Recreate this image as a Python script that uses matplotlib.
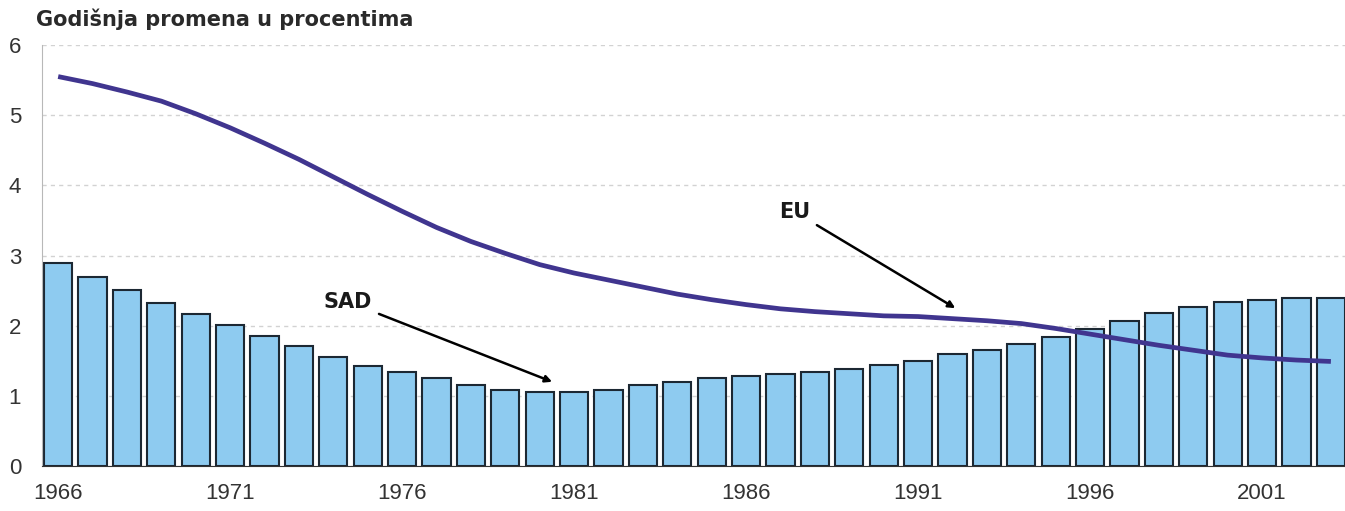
import matplotlib.pyplot as plt
import numpy as np

# podaci ocitani sa grafika
godine = np.arange(1966, 2004)
sad = [2.89, 2.69, 2.51, 2.32, 2.17, 2.01, 1.85, 1.71, 1.55, 1.43,
       1.34, 1.25, 1.15, 1.08, 1.05, 1.05, 1.08, 1.15, 1.20, 1.25,
       1.28, 1.31, 1.34, 1.38, 1.44, 1.50, 1.60, 1.65, 1.74, 1.84,
       1.95, 2.07, 2.18, 2.27, 2.34, 2.37, 2.40, 2.40]
eu = [5.55, 5.45, 5.33, 5.20, 5.02, 4.82, 4.60, 4.37, 4.12, 3.87,
      3.63, 3.40, 3.20, 3.03, 2.87, 2.75, 2.65, 2.55, 2.45, 2.37,
      2.30, 2.24, 2.20, 2.17, 2.14, 2.13, 2.10, 2.07, 2.03, 1.96,
      1.88, 1.80, 1.72, 1.65, 1.58, 1.54, 1.51, 1.49]
xticks = [1966, 1971, 1976, 1981, 1986, 1991, 1996, 2001]

plt.rcParams['font.family'] = ['DejaVu Sans']

fig = plt.figure(figsize=(13.45, 5.11), dpi=100)
ax = fig.add_axes([42 / 1345, 45 / 511, 1 - 42 / 1345, 421 / 511])

ax.bar(godine, sad, width=0.82, color='#8ecbf0', edgecolor='#1c2833',
       linewidth=1.5, zorder=2)
ax.plot(godine, eu, color='#40358f', linewidth=3.4, zorder=3,
        solid_capstyle='butt')

ax.set_xlim(1965.53, 2003.41)
ax.set_ylim(0, 6)
ax.set_yticks(range(0, 7))
ax.set_xticks(xticks)
ax.tick_params(axis='both', length=0, labelsize=16, labelcolor='#333333')
for lab in ax.get_xticklabels() + ax.get_yticklabels():
    lab.set_family('Liberation Sans')
ax.tick_params(axis='x', pad=12)
ax.tick_params(axis='y', pad=15)
ax.grid(axis='y', color='#d2d2d2', linestyle=(0, (3, 3)), linewidth=1.0, zorder=0)

for s in ['top', 'right']:
    ax.spines[s].set_visible(False)
ax.spines['left'].set_color('#b8b8b8')
ax.spines['bottom'].set_color('#333333')

fig.text(36 / 1345, 1 - 19 / 511, 'Godišnja promena u procentima', fontsize=15,
         fontweight='bold', color='#2a2a2a', va='center', ha='left')

arrow = dict(arrowstyle='-|>', color='black', lw=1.8, mutation_scale=10,
             shrinkA=3, shrinkB=0)
ax.annotate('SAD', xy=(1980.36, 1.20), xytext=(1974.43, 2.34),
            fontsize=15, fontweight='bold', color='#1a1a1a',
            ha='center', va='center', arrowprops=arrow)
ax.annotate('EU', xy=(1992.08, 2.25), xytext=(1987.42, 3.62),
            fontsize=15, fontweight='bold', color='#1a1a1a',
            ha='center', va='center', arrowprops=arrow)

fig.savefig('out.png', dpi=100)
